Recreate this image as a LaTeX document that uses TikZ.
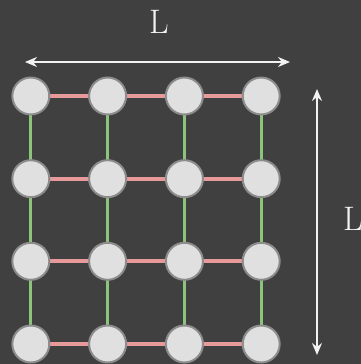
\documentclass[tikz,border=0pt]{standalone}
\usetikzlibrary{arrows.meta}
\definecolor{bg}{HTML}{404040}
\definecolor{nodefill}{HTML}{E0E0E0}
\definecolor{nodedraw}{HTML}{8C8C8C}
\definecolor{hlink}{HTML}{E89A9A}
\definecolor{vlink}{HTML}{8DC47C}
\definecolor{arr}{HTML}{F2F2F2}
\tikzset{
  site/.style={circle, fill=nodefill, draw=nodedraw, line width=2pt, minimum size=37pt, inner sep=0pt},
  hbond/.style={hlink, line width=4pt},
  vbond/.style={vlink, line width=3.3pt},
  dimarrow/.style={arr, line width=1.8pt, {Stealth[length=12pt,width=10pt]}-{Stealth[length=12pt,width=10pt]}},
  dimlabel/.style={text=arr, font=\fontsize{34}{40}\selectfont, inner sep=0pt}
}
\begin{document}
\begin{tikzpicture}[x=1pt,y=-1pt]
\fill[bg] (0,0) rectangle (361,364);
\useasboundingbox (0,0) rectangle (361,364);
\foreach \i/\x in {1/30.8,2/107.6,3/184.4,4/261.2}{
  \foreach \j/\y in {1/96,2/178.7,3/261.3,4/344}{
    \coordinate (p\i\j) at (\x,\y);
  }
}
\foreach \j in {1,2,3,4}{
  \draw[hbond] (p1\j) -- (p4\j);
}
\foreach \i in {1,2,3,4}{
  \draw[vbond] (p\i1) -- (p\i4);
}
\foreach \i in {1,2,3,4}{
  \foreach \j in {1,2,3,4}{
    \node[site] (n\i\j) at (p\i\j) {};
  }
}
\coordinate (hl) at (25,62);
\coordinate (hr) at (290,62);
\draw[dimarrow] (hl) -- (hr);
\node[dimlabel] (lt) at (159,22) {L};
\coordinate (vt) at (317,89);
\coordinate (vb) at (317,355);
\draw[dimarrow] (vt) -- (vb);
\node[dimlabel] (lr) at (353,219) {L};
\end{tikzpicture}
\end{document}
